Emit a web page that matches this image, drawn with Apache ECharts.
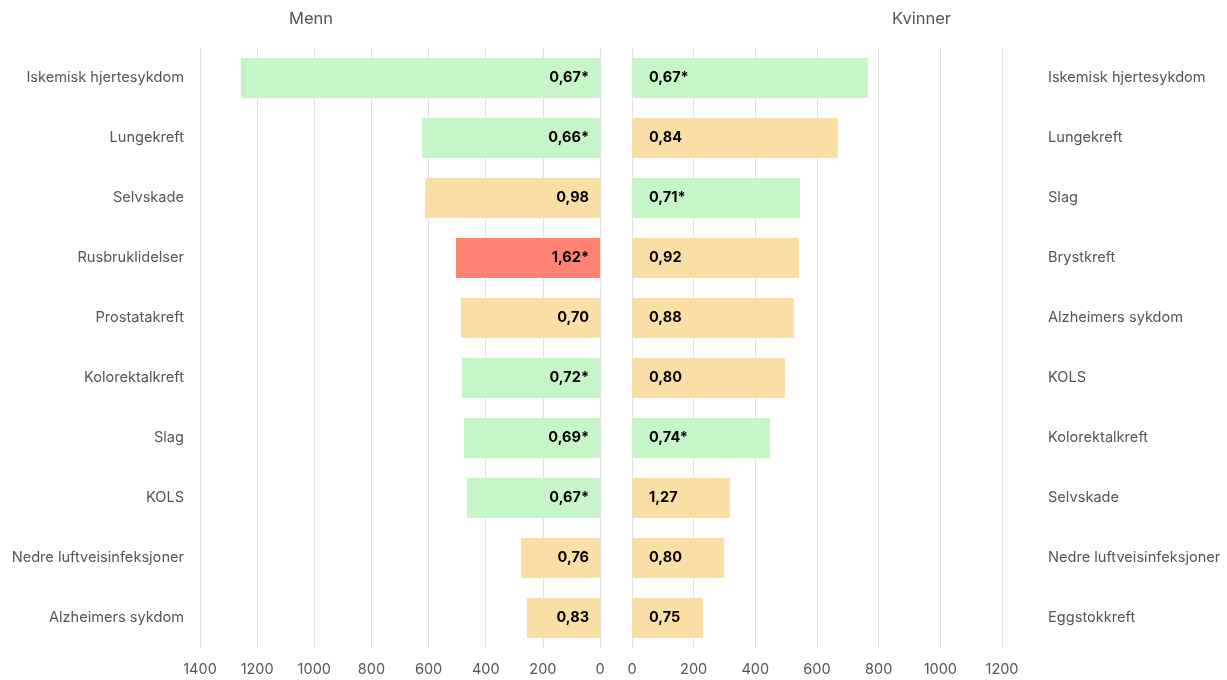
<!DOCTYPE html>
<html>
    <head>
        <meta charset="UTF-8" />
        <script src="https://cdn.jsdelivr.net/npm/echarts@6/dist/echarts.min.js"></script>
        <style>
            html, body { margin: 0; padding: 0; background: #fff; }
        </style>
    </head>

    <body>
        <div id="main" style="width: 1227px; height: 680px"></div>
        <script type="text/javascript">
            // menn
            var mennCategories = ['Iskemisk hjertesykdom', 'Lungekreft', 'Selvskade', 'Rusbruklidelser', 'Prostatakreft',
                'Kolorektalkreft', 'Slag', 'KOLS', 'Nedre luftveisinfeksjoner', 'Alzheimers sykdom'];
            var mennValues = [1257, 623, 612, 504, 487, 483, 476, 466, 277, 256];
            var mennRatios = ['0,67*', '0,66*', '0,98', '1,62*', '0,70', '0,72*', '0,69*', '0,67*', '0,76', '0,83'];

            // kvinner
            var kvinnerCategories = ['Iskemisk hjertesykdom', 'Lungekreft', 'Slag', 'Brystkreft', 'Alzheimers sykdom',
                'KOLS', 'Kolorektalkreft', 'Selvskade', 'Nedre luftveisinfeksjoner', 'Eggstokkreft'];
            var kvinnerValues = [765, 668, 545, 542, 525, 496, 448, 318, 298, 230];
            var kvinnerRatios = ['0,67*', '0,84', '0,71*', '0,92', '0,88', '0,80', '0,74*', '1,27', '0,80', '0,75'];

            var mennTicks = [0, 200, 400, 600, 800, 1000, 1200, 1400];
            var kvinnerTicks = [0, 200, 400, 600, 800, 1000, 1200];

            var fontFamily = 'Inter, sans-serif';
            var grey = '#555';

            // farge etter ratio: signifikant lavere = grønn, signifikant høyere = rød, ellers oransje
            function colorFor(ratio) {
                if (ratio.indexOf('*') < 0) return '#f9dea6';
                var v = parseFloat(ratio.replace(',', '.'));
                return v < 1 ? '#c6f5c7' : '#ff8373';
            }

            function buildData(values, ratios) {
                return values.map(function (v, i) {
                    return { value: v, ratio: ratios[i], itemStyle: { color: colorFor(ratios[i]) } };
                });
            }

            var chart = echarts.init(document.getElementById('main'));

            var option = {
                animation: false,
                textStyle: { fontFamily: fontFamily },
                title: [
                    { text: 'Menn', left: 289, top: 11, padding: 0,
                      textStyle: { fontSize: 16.5, fontWeight: 'normal', color: grey, fontFamily: fontFamily } },
                    { text: 'Kvinner', left: 892, top: 11, padding: 0,
                      textStyle: { fontSize: 16.5, fontWeight: 'normal', color: grey, fontFamily: fontFamily } }
                ],
                grid: [
                    { left: 200, width: 400, top: 48, height: 600, containLabel: false },
                    { left: 632, width: 370, top: 48, height: 600, containLabel: false }
                ],
                xAxis: [
                    {
                        gridIndex: 0, type: 'value', inverse: true,
                        min: mennTicks[0], max: mennTicks[mennTicks.length - 1], interval: 200,
                        axisLine: { show: false }, axisTick: { show: false },
                        splitLine: { lineStyle: { color: '#e3e3e3' } },
                        axisLabel: { color: grey, fontSize: 14.5, margin: 14, fontFamily: fontFamily,
                                     formatter: function (v) { return String(v); } }
                    },
                    {
                        gridIndex: 1, type: 'value',
                        min: kvinnerTicks[0], max: kvinnerTicks[kvinnerTicks.length - 1], interval: 200,
                        axisLine: { show: false }, axisTick: { show: false },
                        splitLine: { lineStyle: { color: '#e3e3e3' } },
                        axisLabel: { color: grey, fontSize: 14.5, margin: 14, fontFamily: fontFamily,
                                     formatter: function (v) { return String(v); } }
                    }
                ],
                yAxis: [
                    {
                        gridIndex: 0, type: 'category', inverse: true, position: 'left',
                        data: mennCategories,
                        axisLine: { show: false }, axisTick: { show: false },
                        axisLabel: { color: grey, fontSize: 14.6, margin: 16, fontFamily: fontFamily }
                    },
                    {
                        gridIndex: 1, type: 'category', inverse: true, position: 'right',
                        data: kvinnerCategories,
                        axisLine: { show: false }, axisTick: { show: false },
                        axisLabel: { color: grey, fontSize: 14.6, margin: 46, fontFamily: fontFamily }
                    }
                ],
                series: [
                    {
                        name: 'Menn', type: 'bar', xAxisIndex: 0, yAxisIndex: 0,
                        barWidth: 40,
                        data: buildData(mennValues, mennRatios),
                        label: {
                            show: true, position: 'insideRight', distance: 11,
                            color: '#000', fontWeight: 'bold', fontSize: 14.5, fontFamily: fontFamily,
                            formatter: function (p) { return p.data.ratio; }
                        }
                    },
                    {
                        name: 'Kvinner', type: 'bar', xAxisIndex: 1, yAxisIndex: 1,
                        barWidth: 40,
                        data: buildData(kvinnerValues, kvinnerRatios),
                        label: {
                            show: true, position: 'insideLeft', distance: 17,
                            color: '#000', fontWeight: 'bold', fontSize: 14.5, fontFamily: fontFamily,
                            formatter: function (p) { return p.data.ratio; }
                        }
                    }
                ]
            };

            option && chart.setOption(option);
        </script>
    </body>
</html>
